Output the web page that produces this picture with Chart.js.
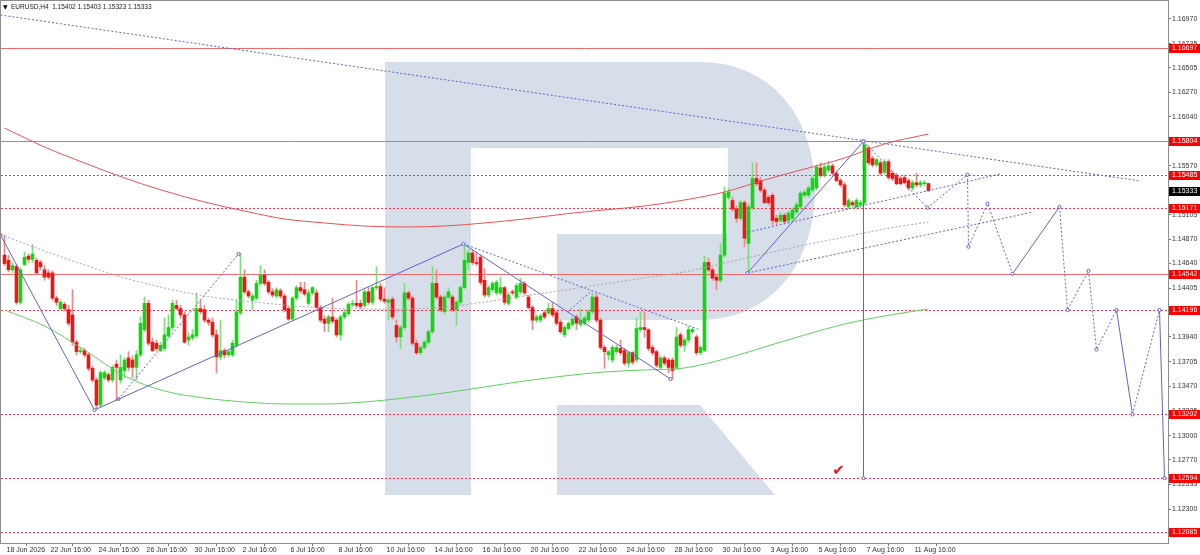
<!DOCTYPE html>
<html>
<head>
<meta charset="utf-8">
<script src="https://cdn.jsdelivr.net/npm/chart.js@4.4.1/dist/chart.umd.min.js"></script>
<style>
  html, body { margin: 0; padding: 0; background: #fff; }
  #wrap { width: 1200px; height: 555px; }
</style>
</head>
<body>
<div id="wrap"><canvas id="chart" width="1200" height="555"></canvas></div>
<script>
// ======== EURUSD H4 candles (bar 0 = 18 Jun 2026 20:00) ========
const opens = [
  1.1472,1.1467,1.1458,1.1461,1.1427,1.1463,1.1471,1.1468,1.1467,1.1465,
  1.1458,1.1455,1.1455,1.1431,1.1421,1.1425,1.1420,1.1415,1.1389,1.1380,
  1.1381,1.1377,1.1364,1.1353,1.1329,1.1355,1.1358,1.1353,1.1368,1.1353,
  1.1362,1.1374,1.1372,1.1365,1.1377,1.1401,1.1426,1.1389,1.1388,1.1381,
  1.1383,1.1395,1.1403,1.1424,1.1421,1.1415,1.1391,1.1393,1.1395,1.1421,
  1.1420,1.1410,1.1408,1.1396,1.1375,1.1381,1.1377,1.1377,1.1386,1.1417,
  1.1451,1.1437,1.1429,1.1431,1.1445,1.1453,1.1446,1.1437,1.1433,1.1438,
  1.1433,1.1421,1.1411,1.1431,1.1441,1.1439,1.1426,1.1436,1.1436,1.1422,
  1.1411,1.1407,1.1413,1.1410,1.1396,1.1413,1.1416,1.1425,1.1426,1.1426,
  1.1424,1.1437,1.1427,1.1441,1.1442,1.1430,1.1427,1.1430,1.1405,1.1394,
  1.1403,1.1436,1.1431,1.1388,1.1379,1.1384,1.1389,1.1399,1.1445,1.1432,
  1.1418,1.1432,1.1432,1.1420,1.1427,1.1441,1.1465,1.1474,1.1465,1.1470,
  1.1448,1.1434,1.1439,1.1436,1.1436,1.1441,1.1426,1.1437,1.1432,1.1437,
  1.1445,1.1432,1.1422,1.1410,1.1410,1.1417,1.1417,1.1421,1.1417,1.1408,
  1.1396,1.1402,1.1406,1.1413,1.1406,1.1407,1.1410,1.1418,1.1432,1.1410,
  1.1384,1.1377,1.1372,1.1380,1.1383,1.1381,1.1369,1.1379,1.1372,1.1401,
  1.1403,1.1401,1.1384,1.1380,1.1365,1.1374,1.1372,1.1372,1.1365,1.1396,
  1.1386,1.1391,1.1399,1.1394,1.1379,1.1381,1.1465,1.1458,1.1451,1.1448,
  1.1472,1.1527,1.1524,1.1516,1.1507,1.1522,1.1483,1.1517,1.1545,1.1543,
  1.1534,1.1527,1.1529,1.1507,1.1505,1.1510,1.1505,1.1507,1.1513,1.1518,
  1.1529,1.1529,1.1534,1.1536,1.1555,1.1548,1.1553,1.1557,1.1550,1.1543,
  1.1539,1.1518,1.1522,1.1518,1.1520,1.1522,1.1574,1.1564,1.1558,1.1560,
  1.1551,1.1561,1.1550,1.1548,1.1545,1.1546,1.1543,1.1536,1.1541,1.1539,
  1.1540,1.15402
];
const highs = [
  1.1491,1.1472,1.1465,1.1463,1.1460,1.1475,1.1473,1.1482,1.1469,1.1467,
  1.1462,1.1458,1.1457,1.1433,1.1429,1.1427,1.1424,1.1439,1.1391,1.1384,
  1.1383,1.1379,1.1366,1.1355,1.1362,1.1362,1.1360,1.1367,1.1372,1.1377,
  1.1374,1.1380,1.1376,1.1381,1.1413,1.1432,1.1429,1.1393,1.1391,1.1389,
  1.1412,1.1415,1.1429,1.1429,1.1424,1.1418,1.1398,1.1401,1.1436,1.1429,
  1.1424,1.1412,1.1412,1.1401,1.1410,1.1383,1.1382,1.1391,1.1429,1.1474,
  1.1458,1.1439,1.1435,1.1448,1.1462,1.1458,1.1448,1.1440,1.1441,1.1440,
  1.1435,1.1423,1.1433,1.1443,1.1446,1.1446,1.1439,1.1442,1.1439,1.1424,
  1.1414,1.1415,1.1431,1.1412,1.1415,1.1420,1.1427,1.1429,1.1448,1.1429,
  1.1439,1.1441,1.1442,1.1461,1.1445,1.1441,1.1431,1.1432,1.1410,1.1405,
  1.1445,1.1438,1.1433,1.1391,1.1386,1.1391,1.1401,1.1461,1.1458,1.1434,
  1.1434,1.1441,1.1434,1.1429,1.1443,1.1482,1.1477,1.1477,1.1475,1.1472,
  1.1459,1.1443,1.1447,1.1448,1.1451,1.1442,1.1436,1.1439,1.1445,1.1450,
  1.1447,1.1434,1.1424,1.1415,1.1416,1.1419,1.1426,1.1427,1.1419,1.1410,
  1.1405,1.1409,1.1413,1.1415,1.1421,1.1414,1.1420,1.1436,1.1436,1.1412,
  1.1386,1.1381,1.1386,1.1386,1.1391,1.1383,1.1380,1.1380,1.1412,1.1418,
  1.1418,1.1402,1.1386,1.1381,1.1376,1.1376,1.1374,1.1374,1.1403,1.1398,
  1.1393,1.1404,1.1403,1.1396,1.1386,1.1471,1.1469,1.1460,1.1453,1.1483,
  1.1537,1.1536,1.1527,1.1519,1.1524,1.1524,1.1521,1.1560,1.1560,1.1546,
  1.1536,1.1529,1.1531,1.1510,1.1513,1.1512,1.1514,1.1517,1.1522,1.1533,
  1.1534,1.1538,1.1547,1.1558,1.1560,1.1559,1.1561,1.1559,1.1552,1.1545,
  1.1541,1.1526,1.1524,1.1526,1.1524,1.1580,1.1576,1.1566,1.1564,1.1562,
  1.1563,1.1563,1.1552,1.1550,1.1547,1.1548,1.1545,1.1543,1.1550,1.1543,
  1.1543,1.15403
];
const lows = [
  1.1462,1.1456,1.1455,1.1425,1.1425,1.1462,1.1465,1.1465,1.1453,1.1458,
  1.1448,1.1449,1.1429,1.1424,1.1420,1.1419,1.1405,1.1386,1.1377,1.1378,
  1.1375,1.1362,1.1351,1.1326,1.1327,1.1353,1.1351,1.1351,1.1334,1.1350,
  1.1355,1.1362,1.1355,1.1353,1.1375,1.1399,1.1386,1.1380,1.1381,1.1380,
  1.1381,1.1393,1.1401,1.1420,1.1412,1.1388,1.1386,1.1391,1.1393,1.1416,
  1.1408,1.1405,1.1394,1.1360,1.1372,1.1374,1.1375,1.1375,1.1384,1.1415,
  1.1435,1.1431,1.1420,1.1429,1.1443,1.1443,1.1435,1.1432,1.1431,1.1431,
  1.1418,1.1410,1.1410,1.1429,1.1436,1.1433,1.1424,1.1434,1.1421,1.1408,
  1.1399,1.1399,1.1407,1.1394,1.1391,1.1411,1.1414,1.1423,1.1422,1.1421,
  1.1422,1.1425,1.1425,1.1439,1.1428,1.1426,1.1410,1.1411,1.1389,1.1383,
  1.1401,1.1429,1.1386,1.1377,1.1377,1.1382,1.1387,1.1397,1.1430,1.1418,
  1.1416,1.1430,1.1418,1.1405,1.1425,1.1440,1.1458,1.1463,1.1462,1.1444,
  1.1432,1.1432,1.1437,1.1434,1.1434,1.1425,1.1424,1.1434,1.1430,1.1435,
  1.1434,1.1421,1.1401,1.1408,1.1408,1.1411,1.1415,1.1413,1.1405,1.1397,
  1.1394,1.1401,1.1404,1.1401,1.1404,1.1405,1.1408,1.1416,1.1408,1.1382,
  1.1364,1.1372,1.1370,1.1378,1.1377,1.1367,1.1365,1.1368,1.1370,1.1399,
  1.1394,1.1381,1.1377,1.1365,1.1363,1.1367,1.1360,1.1354,1.1363,1.1384,
  1.1380,1.1389,1.1397,1.1377,1.1377,1.1380,1.1456,1.1448,1.1439,1.1446,
  1.1470,1.1525,1.1514,1.1503,1.1505,1.1480,1.1455,1.1515,1.1538,1.1532,
  1.1521,1.1520,1.1501,1.1501,1.1503,1.1502,1.1503,1.1505,1.1511,1.1516,
  1.1527,1.1527,1.1532,1.1534,1.1546,1.1546,1.1551,1.1548,1.1542,1.1537,
  1.1518,1.1516,1.1518,1.1516,1.1517,1.1520,1.1558,1.1556,1.1556,1.1548,
  1.1549,1.1544,1.1543,1.1539,1.1539,1.1540,1.1534,1.1534,1.1537,1.1537,
  1.1538,1.15323
];
const closes = [
  1.1464,1.1458,1.1462,1.1427,1.1458,1.1470,1.1468,1.1473,1.1455,1.1461,
  1.1451,1.1451,1.1431,1.1427,1.1427,1.1421,1.1407,1.1389,1.1380,1.1381,
  1.1377,1.1364,1.1353,1.1329,1.1360,1.1360,1.1353,1.1365,1.1365,1.1365,
  1.1372,1.1365,1.1365,1.1377,1.1407,1.1426,1.1388,1.1381,1.1383,1.1386,
  1.1396,1.1403,1.1426,1.1421,1.1415,1.1389,1.1394,1.1396,1.1421,1.1418,
  1.1410,1.1408,1.1396,1.1375,1.1381,1.1377,1.1380,1.1388,1.1418,1.1451,
  1.1437,1.1433,1.1433,1.1445,1.1453,1.1445,1.1437,1.1434,1.1439,1.1433,
  1.1420,1.1411,1.1431,1.1441,1.1438,1.1435,1.1436,1.1441,1.1422,1.1410,
  1.1407,1.1413,1.1409,1.1396,1.1413,1.1417,1.1425,1.1426,1.1424,1.1423,
  1.1437,1.1427,1.1441,1.1442,1.1430,1.1428,1.1429,1.1413,1.1394,1.1403,
  1.1436,1.1431,1.1388,1.1379,1.1384,1.1389,1.1399,1.1445,1.1432,1.1420,
  1.1432,1.1437,1.1420,1.1427,1.1441,1.1467,1.1474,1.1465,1.1464,1.1446,
  1.1434,1.1441,1.1445,1.1446,1.1441,1.1427,1.1434,1.1436,1.1443,1.1445,
  1.1436,1.1422,1.1410,1.1413,1.1414,1.1413,1.1421,1.1415,1.1407,1.1399,
  1.1403,1.1407,1.1411,1.1407,1.1410,1.1412,1.1418,1.1432,1.1410,1.1384,
  1.1380,1.1380,1.1384,1.1384,1.1379,1.1369,1.1379,1.1370,1.1402,1.1403,
  1.1401,1.1383,1.1379,1.1367,1.1374,1.1369,1.1365,1.1362,1.1394,1.1386,
  1.1391,1.1401,1.1401,1.1379,1.1384,1.1465,1.1458,1.1450,1.1448,1.1472,
  1.1531,1.1532,1.1516,1.1507,1.1522,1.1488,1.1518,1.1545,1.1540,1.1534,
  1.1522,1.1522,1.1505,1.1504,1.1510,1.1504,1.1512,1.1515,1.1520,1.1531,
  1.1532,1.1536,1.1545,1.1556,1.1548,1.1556,1.1557,1.1550,1.1543,1.1539,
  1.1520,1.1524,1.1520,1.1524,1.1522,1.1577,1.1560,1.1558,1.1563,1.1550,
  1.1561,1.1546,1.1545,1.1540,1.1540,1.1541,1.1536,1.1541,1.1539,1.1541,
  1.1541,1.15333
];

// ======== Axis labels ========
const dateTicks = [0, 11, 23, 35, 47, 59, 71, 83, 95, 107, 119, 131, 143, 155, 167, 179, 191, 203, 215, 227];
const dateLabels = [
  "18 Jun 2026", "22 Jun 16:00", "24 Jun 16:00", "26 Jun 16:00", "30 Jun 16:00",
  "2 Jul 16:00", "6 Jul 16:00", "8 Jul 16:00", "10 Jul 16:00", "14 Jul 16:00",
  "16 Jul 16:00", "20 Jul 16:00", "22 Jul 16:00", "24 Jul 16:00", "28 Jul 16:00",
  "30 Jul 16:00", "3 Aug 16:00", "5 Aug 16:00", "7 Aug 16:00", "11 Aug 16:00"
];
const priceTicks = [
  1.16970, 1.16735, 1.16505, 1.16270, 1.16040, 1.15570, 1.15105, 1.14870, 1.14640,
  1.14405, 1.13940, 1.13705, 1.13470, 1.13235, 1.13000, 1.12770, 1.12535, 1.12300
];

// ======== Moving averages (sampled every 10 bars) ========
const maIdx = [0, 10, 20, 30, 40, 50, 60, 70, 80, 90, 100, 110, 120, 130, 140, 150, 160, 170, 180, 190, 200, 210, 220, 231];
const maRed = [1.15931, 1.15750, 1.15598, 1.15455, 1.15331, 1.15226, 1.15140, 1.15064, 1.15026, 1.14997, 1.14988, 1.14997,
  1.15026, 1.15064, 1.15112, 1.15150, 1.15188, 1.15245, 1.15321, 1.15436, 1.15540, 1.15645, 1.15779, 1.15874];
const maGreen = [1.14197, 1.14044, 1.13816, 1.13568, 1.13425, 1.13358, 1.13320, 1.13301, 1.13301, 1.13320, 1.13358, 1.13406,
  1.13463, 1.13520, 1.13568, 1.13606, 1.13625, 1.13644, 1.13730, 1.13844, 1.13958, 1.14063, 1.14140, 1.14206];
const maGray = [1.14902, 1.14759, 1.14626, 1.14502, 1.14406, 1.14330, 1.14283, 1.14244, 1.14216, 1.14206, 1.14206, 1.14225,
  1.14273, 1.14330, 1.14387, 1.14445, 1.14502, 1.14559, 1.14645, 1.14730, 1.14816, 1.14892, 1.14969, 1.15035];

// ======== Horizontal levels ========
const levelsSolid = [1.16697, 1.15804, 1.14542];
const levelsDotted = [1.15485, 1.15171, 1.14196, 1.13202, 1.12594, 1.12085];
const lastPrice = 1.15333;

// ======== Drawn lines (bar index / price) ========
const trendX = [-1, 284];
const trendY = [1.17008, 1.15426];
const waveX = [-1, 22.5, 114.75, 166.5];
const waveY = [1.14912, 1.13244, 1.14826, 1.13539];
const fallDotX = [114.75, 174];
const fallDotY = [1.14826, 1.14006];
const earlyDotX = [28.5, 58.5];
const earlyDotY = [1.13349, 1.14730];
const midDotX = [140.75, 146.5];
const midDotY = [1.14178, 1.14368];
const rallyX = [185.75, 214.75, 214.75];
const rallyY = [1.14549, 1.15804, 1.12594];
const supAX = [186, 249];
const supAY = [1.14940, 1.15493];
const supBX = [185.75, 257.25];
const supBY = [1.14549, 1.15131];
const projX = [214.75, 230.75, 240.75, 241, 245.75, 252, 263.75, 265.75, 271, 273, 278, 282, 288.75, 290];
const projY = [1.15804, 1.15171, 1.15485, 1.14800, 1.15210, 1.14542, 1.15180, 1.14196, 1.14570, 1.13820, 1.14196, 1.13202, 1.14196, 1.12594];
const checkX = 208.5;
const checkY = 1.1266;

// ======== Helpers ========
const BLUE = "#6262d0";
const PROJ_SOLID = [5, 10, 12];
const pts = (xs, ys) => xs.map((x, i) => ({ x, y: ys[i] }));
const bars = opens.map((o, i) => i);
const isUp = bars.map((i) => closes[i] >= opens[i]);

function blueLine(xs, ys, dotted, markers, order) {
  return {
    type: "line",
    data: pts(xs, ys),
    borderColor: BLUE,
    borderWidth: 1,
    borderDash: dotted ? [2, 2] : [],
    pointRadius: markers ? 1.6 : 0,
    pointBackgroundColor: "#fff",
    pointBorderColor: BLUE,
    pointBorderWidth: 1,
    tension: 0,
    order,
  };
}

function maLine(ys, color, dotted, order) {
  return {
    type: "line",
    data: pts(maIdx, ys),
    borderColor: color,
    borderWidth: 1,
    borderDash: dotted ? [2, 2] : [],
    pointRadius: 0,
    cubicInterpolationMode: "monotone",
    order,
  };
}

// drop the half-label padding chart.js adds around axes
function noPad(scale) {
  scale.paddingTop = 0;
  scale.paddingBottom = 0;
  scale.paddingLeft = 0;
  scale.paddingRight = 0;
}

// ======== Background logo + level lines ========
const backdrop = {
  id: "backdrop",
  beforeDatasetsDraw(chart) {
    const { ctx, chartArea } = chart;
    const ys = chart.scales.y;
    ctx.save();
    ctx.fillStyle = "#d6deea";
    ctx.fillRect(385, 62, 86, 433);
    ctx.beginPath();
    ctx.moveTo(471, 62);
    ctx.lineTo(700, 62);
    ctx.bezierCurveTo(772, 62, 815, 118, 815, 190);
    ctx.bezierCurveTo(815, 262, 772, 320, 700, 320);
    ctx.lineTo(557, 320);
    ctx.lineTo(557, 234);
    ctx.lineTo(728, 234);
    ctx.lineTo(728, 148);
    ctx.lineTo(471, 148);
    ctx.closePath();
    ctx.fill();
    ctx.beginPath();
    ctx.moveTo(557, 405);
    ctx.lineTo(700, 405);
    ctx.lineTo(775, 495);
    ctx.lineTo(557, 495);
    ctx.closePath();
    ctx.fill();

    ctx.lineWidth = 1;
    const hline = (v) => {
      const py = Math.round(ys.getPixelForValue(v)) + 0.5;
      ctx.beginPath();
      ctx.moveTo(chartArea.left, py);
      ctx.lineTo(chartArea.right, py);
      ctx.stroke();
    };
    ctx.strokeStyle = "#ef6b6b";
    ctx.setLineDash([]);
    levelsSolid.forEach(hline);
    ctx.strokeStyle = "#ff3152";
    ctx.setLineDash([2, 2]);
    levelsDotted.forEach(hline);
    ctx.restore();
  },
  afterDraw(chart) {
    const { ctx, chartArea } = chart;
    const xs = chart.scales.x;
    const ys = chart.scales.y;
    ctx.save();
    // frame
    ctx.strokeStyle = "#8c8c8c";
    ctx.lineWidth = 1;
    ctx.strokeRect(chartArea.left - 0.5, chartArea.top - 0.5, chartArea.right - chartArea.left + 1, chartArea.bottom - chartArea.top + 1);

    // price tags
    ctx.font = '7px "Liberation Sans"';
    ctx.textBaseline = "middle";
    const tag = (v, bg) => {
      const py = Math.round(ys.getPixelForValue(v));
      ctx.fillStyle = bg;
      ctx.fillRect(chartArea.right + 1, py - 4, 31, 9);
      ctx.fillStyle = "#fff";
      ctx.fillText(v.toFixed(5), chartArea.right + 4, py + 0.5);
    };
    [...levelsSolid, ...levelsDotted].forEach((v) => tag(v, "#ff0000"));
    tag(lastPrice, "#000");

    // header
    const n = opens.length - 1;
    ctx.fillStyle = "#000";
    ctx.font = '6px "DejaVu Sans"';
    ctx.fillText("▼", 3, 7);
    ctx.font = '6.5px "Liberation Sans"';
    ctx.fillStyle = "#222";
    ctx.fillText(
      `EURUSD,H4  ${opens[n].toFixed(5)} ${highs[n].toFixed(5)} ${lows[n].toFixed(5)} ${closes[n].toFixed(5)}`,
      11, 7
    );

    // check mark
    ctx.fillStyle = "#e5141d";
    ctx.font = 'bold 15px "DejaVu Sans"';
    ctx.textAlign = "center";
    ctx.fillText("✔", xs.getPixelForValue(checkX), ys.getPixelForValue(checkY));
    ctx.restore();
  },
};

// ======== Build chart ========
Chart.defaults.font.family = '"Liberation Sans", Arial, sans-serif';
Chart.defaults.font.size = 7;
Chart.defaults.color = "#333";

new Chart(document.getElementById("chart"), {
  type: "bar",
  data: {
    datasets: [
      {
        data: bars.map((i) => ({ x: i, y: [lows[i], highs[i]] })),
        backgroundColor: isUp.map((u) => (u ? "#7edc7e" : "#f28585")),
        barThickness: 1,
        grouped: false,
        minBarLength: 1,
        order: 30,
      },
      {
        data: bars.map((i) => ({ x: i, y: [opens[i], closes[i]] })),
        backgroundColor: isUp.map((u) => (u ? "#14d414" : "#f01414")),
        barThickness: 3,
        grouped: false,
        minBarLength: 1,
        order: 29,
      },
      maLine(maGreen, "#62cf62", false, 20),
      maLine(maGray, "#a8a8a8", true, 21),
      maLine(maRed, "#ea5252", false, 19),
      blueLine(trendX, trendY, true, false, 9),
      blueLine(waveX, waveY, false, true, 8),
      blueLine(fallDotX, fallDotY, true, false, 8),
      blueLine(earlyDotX, earlyDotY, true, true, 8),
      blueLine(midDotX, midDotY, true, false, 8),
      blueLine(rallyX, rallyY, false, true, 7),
      blueLine(supAX, supAY, true, false, 8),
      blueLine(supBX, supBY, true, false, 8),
      {
        ...blueLine(projX, projY, true, true, 6),
        segment: {
          borderDash: (ctx) => (PROJ_SOLID.includes(ctx.p0DataIndex) ? [] : [2, 2]),
        },
      },
    ],
  },
  options: {
    responsive: false,
    animation: false,
    devicePixelRatio: 1,
    events: [],
    layout: { autoPadding: false, padding: { top: 1, left: 1, right: 0, bottom: 0 } },
    plugins: { legend: { display: false }, tooltip: { enabled: false } },
    scales: {
      x: {
        type: "linear",
        min: -0.875,
        max: 290.875,
        offset: false,
        border: { display: false },
        grid: { drawOnChartArea: false, drawTicks: true, tickLength: 3, color: "#777" },
        ticks: {
          autoSkip: false,
          maxRotation: 0,
          minRotation: 0,
          align: "start",
          padding: 0,
          labelOffset: 2,
          callback: (v, idx) => dateLabels[idx],
        },
        afterBuildTicks: (scale) => {
          scale.ticks = dateTicks.map((v) => ({ value: v }));
        },
        afterFit: (scale) => {
          scale.height = 12;
          noPad(scale);
        },
      },
      y: {
        type: "linear",
        position: "right",
        min: 1.119761,
        max: 1.171415,
        border: { display: false },
        grid: { drawOnChartArea: false, drawTicks: true, tickLength: 3, color: "#777" },
        ticks: {
          autoSkip: false,
          padding: 1,
          callback: (v) => Number(v).toFixed(5),
        },
        afterBuildTicks: (scale) => {
          scale.ticks = priceTicks.map((v) => ({ value: v }));
        },
        afterFit: (scale) => {
          scale.width = 32;
          noPad(scale);
        },
      },
    },
  },
  plugins: [backdrop],
});
</script>
</body>
</html>
